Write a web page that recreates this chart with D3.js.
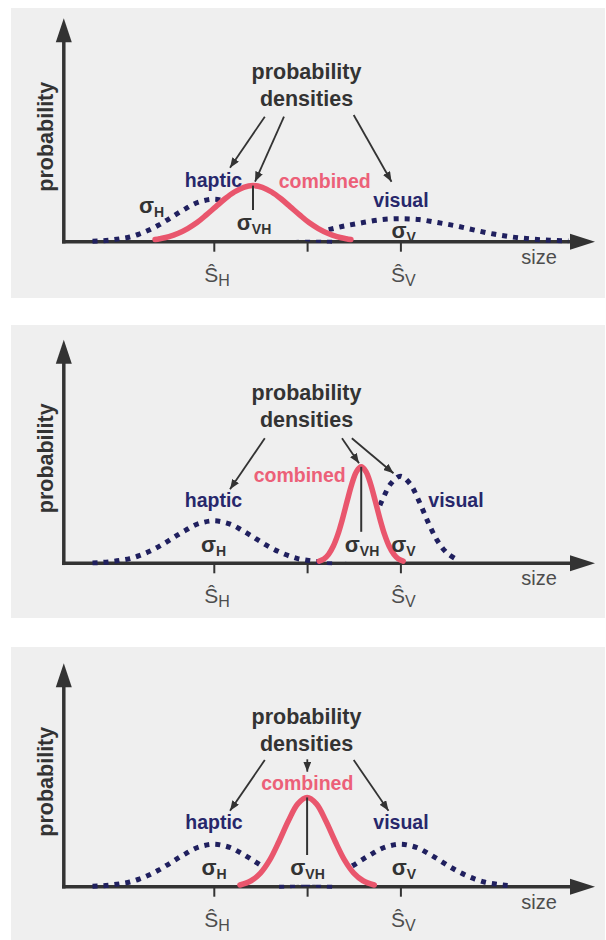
<!DOCTYPE html>
<html>
<head>
<meta charset="utf-8">
<script src="https://cdn.jsdelivr.net/npm/d3@7"></script>
<style>
  body { margin: 0; background: #ffffff; }
  text { font-family: "Liberation Sans", Arial, Helvetica, sans-serif; }
</style>
</head>
<body>
<svg id="chart" width="606" height="940"></svg>
<script>
// ---------------- DATA ----------------
// x in "size" units: centre tick = 0, S_H = -1, S_V = +1
// y in density units: haptic peak = 1
const tickValues = [-1, 0, 1];
const tickMain   = ["Ŝ", "", "Ŝ"];
const tickSub    = ["H", "", "V"];
const titleLines = ["probability", "densities"];
const yTitle     = "probability";
const xTitle     = "size";
const curveNames = ["haptic", "visual", "combined"];
const sigmaSubs  = ["H", "VH", "V"];

// haptic estimate (same in all three panels)
const hapticX = [-2.3,-2.2,-2.1,-2.0,-1.9,-1.8,-1.7,-1.6,-1.5,-1.4,-1.3,-1.2,-1.1,-1.0,-0.9,-0.8,-0.7,-0.6,-0.5,-0.4,-0.3,-0.2,-0.1,0.0,0.1,0.2,0.3];
const hapticY = [0.01,0.02,0.04,0.07,0.11,0.18,0.27,0.38,0.51,0.65,0.78,0.90,0.97,1.00,0.97,0.90,0.78,0.65,0.51,0.38,0.27,0.18,0.11,0.07,0.04,0.02,0.01];

// panel 1: broad visual
const visual1X = [0.0,0.2,0.4,0.6,0.8,1.0,1.2,1.4,1.6,1.8,2.0,2.2,2.4,2.6,2.8];
const visual1Y = [0.18,0.27,0.37,0.45,0.52,0.54,0.52,0.45,0.37,0.27,0.18,0.11,0.065,0.034,0.016];
const combined1X = [-1.63,-1.58,-1.48,-1.38,-1.28,-1.18,-1.08,-0.98,-0.88,-0.78,-0.68,-0.58,-0.48,-0.38,-0.28,-0.18,-0.08,0.02,0.12,0.22,0.32,0.42,0.47];
const combined1Y = [0.05,0.07,0.12,0.20,0.31,0.45,0.63,0.82,1.01,1.17,1.28,1.32,1.28,1.17,1.01,0.82,0.63,0.45,0.31,0.20,0.12,0.07,0.05];

// panel 2: narrow visual
const visual2X = [0.4,0.5,0.6,0.7,0.8,0.9,1.0,1.1,1.2,1.3,1.4,1.5,1.6];
const visual2Y = [0.095,0.24,0.52,0.95,1.46,1.88,2.05,1.88,1.46,0.95,0.52,0.24,0.095];
const combined2X = [0.13,0.18,0.23,0.28,0.33,0.38,0.43,0.48,0.53,0.58,0.63,0.68,0.73,0.78,0.83,0.88,0.93,0.98,1.03];
const combined2Y = [0.05,0.10,0.21,0.40,0.68,1.05,1.47,1.87,2.16,2.27,2.16,1.87,1.47,1.05,0.68,0.40,0.21,0.10,0.05];

// panel 3: equal reliabilities
const visual3X = [-0.3,-0.2,-0.1,0.0,0.1,0.2,0.3,0.4,0.5,0.6,0.7,0.8,0.9,1.0,1.1,1.2,1.3,1.4,1.5,1.6,1.7,1.8,1.9,2.0,2.1,2.2];
const visual3Y = [0.01,0.02,0.04,0.07,0.11,0.18,0.27,0.38,0.51,0.65,0.78,0.90,0.97,1.00,0.97,0.90,0.78,0.65,0.51,0.38,0.27,0.18,0.11,0.07,0.04,0.02];
const combined3X = [-0.72,-0.6,-0.5,-0.4,-0.3,-0.2,-0.1,0.0,0.1,0.2,0.3,0.4,0.5,0.6,0.72];
const combined3Y = [0.04,0.14,0.32,0.63,1.07,1.55,1.95,2.10,1.95,1.55,1.07,0.63,0.32,0.14,0.04];

// ---------------- LAYOUT ----------------
const C = {
  bg: "#efefef", axis: "#333333", navy: "#20205f", navyText: "#27276b",
  red: "#e9566d", redText: "#ec6078", dark: "#333333", light: "#4d4d4d"
};
const axisLeft = 63.8, axisRight = 595;
const panels = [
  { top: 8, bottom: 298, axisY: 241.7,
    hapticX, hapticY, visualX: visual1X, visualY: visual1Y, combX: combined1X, combY: combined1Y,
    labelPos: { haptic: [213.5, -54.7], visual: [401, -34.7], combined: [324.7, -53.7] },
    sigmaPos: { H: [151.5, -28.4], VH: [254, -11.7], V: [403.7, -3.4] },
    arrows: [[264.8, -125, 230, -74], [284, -125, 255, -60], [353.7, -126.7, 391.5, -60]] },
  { top: 325, bottom: 618, axisY: 563.3,
    hapticX, hapticY, visualX: visual2X, visualY: visual2Y, combX: combined2X, combY: combined2Y,
    labelPos: { haptic: [213.5, -56], visual: [456, -56], combined: [299.7, -81.6] },
    sigmaPos: { H: [213.5, -11.5], VH: [362, -11.5], V: [403.5, -11.5] },
    arrows: [[264.8, -125, 230, -74], [342, -125, 359, -100], [351.8, -125, 393.5, -90]] },
  { top: 647, bottom: 940, axisY: 886.7,
    hapticX, hapticY, visualX: visual3X, visualY: visual3Y, combX: combined3X, combY: combined3Y,
    labelPos: { haptic: [214, -57.4], visual: [401, -57.4], combined: [307.3, -96.3] },
    sigmaPos: { H: [214, -11.7], VH: [307.5, -11.7], V: [404, -11.7] },
    arrows: [[264.8, -126.7, 230, -76], [307.3, -127.4, 307.3, -115], [353.7, -126.7, 388.5, -76]] }
];

const svg = d3.select("#chart");
const defs = svg.append("defs");
defs.append("marker").attr("id", "ah")
  .attr("viewBox", "0 0 10 8").attr("refX", 10).attr("refY", 4)
  .attr("markerWidth", 10).attr("markerHeight", 8)
  .attr("markerUnits", "userSpaceOnUse").attr("orient", "auto")
  .append("path").attr("d", "M0,0L10,4L0,8Z").attr("fill", C.dark);

const x = d3.scaleLinear().domain([-1, 1]).range([213.8, 400.4]);

panels.forEach(p => {
  const A = p.axisY;
  const y = d3.scaleLinear().domain([0, 1]).range([A, A - 42.5]);
  const g = svg.append("g");
  const line = d3.line().x(d => x(d[0])).y(d => y(d[1])).curve(d3.curveCatmullRom.alpha(0.5));
  const area = d3.area().x(d => x(d[0])).y0(A - 2).y1(d => y(d[1])).curve(d3.curveCatmullRom.alpha(0.5));

  // background
  g.append("rect").attr("x", 11).attr("y", p.top).attr("width", 594).attr("height", p.bottom - p.top).attr("fill", C.bg);

  // axes
  const tipY = A - 223.5;
  g.append("line").attr("x1", axisLeft).attr("x2", axisLeft).attr("y1", A + 1.75).attr("y2", tipY + 20)
    .attr("stroke", C.axis).attr("stroke-width", 3.5);
  g.append("path").attr("d", `M${axisLeft},${tipY}L${axisLeft - 8},${tipY + 24}L${axisLeft + 8},${tipY + 24}Z`).attr("fill", C.axis);
  g.append("line").attr("x1", axisLeft - 1.75).attr("x2", axisRight - 20).attr("y1", A).attr("y2", A)
    .attr("stroke", C.axis).attr("stroke-width", 3.5);
  g.append("path").attr("d", `M${axisRight},${A}L${axisRight - 25},${A - 8}L${axisRight - 25},${A + 8}Z`).attr("fill", C.axis);
  g.append("g").attr("transform", `translate(0,${A})`)
    .call(d3.axisBottom(x).tickValues(tickValues).tickSize(10).tickFormat(() => ""))
    .call(s => s.select(".domain").remove())
    .call(s => s.selectAll(".tick line").attr("stroke", C.axis).attr("stroke-width", 2));

  // tick labels (S-hat with subscript)
  tickValues.forEach((v, i) => {
    if (!tickMain[i]) return;
    const t = g.append("text").attr("x", x(v) - 9.5).attr("y", A + 40)
      .attr("font-family", "Roboto, 'Liberation Sans', sans-serif").attr("font-weight", 300)
      .attr("font-size", 21).attr("fill", C.light);
    t.append("tspan").text(tickMain[i]);
    t.append("tspan").attr("font-size", 16).attr("dy", 4).text(tickSub[i]);
  });
  g.append("text").attr("x", 539).attr("y", A + 22).attr("text-anchor", "middle")
    .attr("font-family", "Roboto, 'Liberation Sans', sans-serif").attr("font-weight", 300)
    .attr("font-size", 20).attr("fill", C.light).text(xTitle);

  // y title
  g.append("text").attr("transform", `translate(53,${A - 105}) rotate(-90)`).attr("text-anchor", "middle")
    .attr("font-weight", "bold").attr("font-size", 21.5).attr("fill", C.dark).text(yTitle);

  // dotted single-cue densities
  const dots = s => s.attr("fill", "none").attr("stroke", C.navy).attr("stroke-width", 5)
    .attr("stroke-dasharray", "5,6");
  g.append("path").datum(d3.zip(p.hapticX, p.hapticY)).attr("d", line).call(dots);
  g.append("path").datum(d3.zip(p.visualX, p.visualY)).attr("d", line).call(dots);

  // combined density (masks what lies beneath it)
  const comb = d3.zip(p.combX, p.combY);
  g.append("path").datum(comb).attr("d", area).attr("fill", C.bg);
  g.append("path").datum(comb).attr("d", line).attr("fill", "none").attr("stroke", C.red)
    .attr("stroke-width", 5.5).attr("stroke-linecap", "round").attr("stroke-linejoin", "round");

  // vertical line from combined peak
  const pk = comb.reduce((a, b) => (b[1] > a[1] ? b : a));
  g.append("line").attr("x1", x(pk[0])).attr("x2", x(pk[0])).attr("y1", y(pk[1]))
    .attr("y2", A + p.sigmaPos.VH[1] - 20).attr("stroke", C.dark).attr("stroke-width", 2);

  // sigma labels
  const sigKeys = ["H", "VH", "V"];
  sigKeys.forEach((k, i) => {
    const [sx, sy] = p.sigmaPos[k];
    const t = g.append("text").attr("x", sx).attr("y", A + sy).attr("text-anchor", "middle")
      .attr("font-weight", "bold").attr("fill", C.dark).attr("font-size", 22);
    t.append("tspan").text("σ");
    t.append("tspan").attr("font-size", 14).attr("dy", 4).text(sigmaSubs[i]);
  });

  // curve labels
  curveNames.forEach(n => {
    const [lx, ly] = p.labelPos[n];
    g.append("text").attr("x", lx).attr("y", A + ly).attr("text-anchor", "middle")
      .attr("font-weight", "bold").attr("font-size", 19.5)
      .attr("fill", n === "combined" ? C.redText : C.navyText).text(n);
  });

  // title
  titleLines.forEach((s, i) => {
    g.append("text").attr("x", 306.5).attr("y", A - 163 + i * 27).attr("text-anchor", "middle")
      .attr("font-weight", "bold").attr("font-size", 21.5).attr("fill", C.dark).text(s);
  });

  // annotation arrows
  p.arrows.forEach(a => {
    g.append("line").attr("x1", a[0]).attr("y1", A + a[1]).attr("x2", a[2]).attr("y2", A + a[3])
      .attr("stroke", C.dark).attr("stroke-width", 1.8).attr("marker-end", "url(#ah)");
  });
});
</script>
</body>
</html>
